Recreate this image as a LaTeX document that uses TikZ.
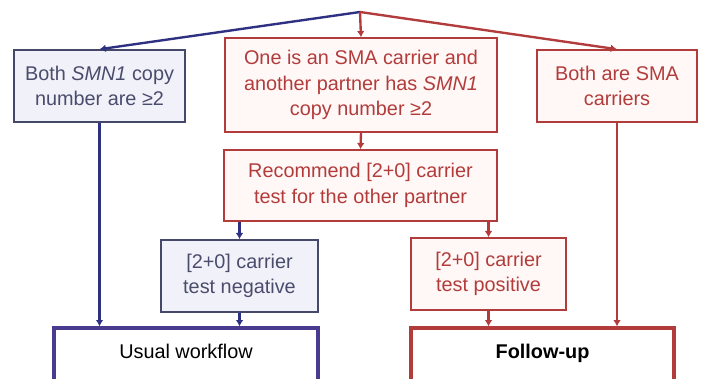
\documentclass[tikz,border=0pt]{standalone}
\usepackage{fontspec}
\setmainfont{Liberation Sans}
\usepackage{xcolor}
\usepackage{tikz}
\usetikzlibrary{arrows.meta}
\definecolor{navy}{HTML}{2E3182}
\definecolor{slate}{HTML}{454869}
\definecolor{slatetext}{HTML}{4A4C6C}
\definecolor{lav}{HTML}{F1F2F9}
\definecolor{brick}{HTML}{B23C3C}
\definecolor{blush}{HTML}{FFF8F6}
\definecolor{plum}{HTML}{4A3B8E}
\newcommand{\pxu}{0.02cm}
\tikzset{
  every node/.style={font=\fontsize{11.3}{14.5}\selectfont, align=center, inner sep=0pt},
  nobox/.style={draw=slate, fill=lav, text=slatetext, line width=0.85pt},
  yesbox/.style={draw=brick, fill=blush, text=brick, line width=0.85pt},
  endbox/.style={fill=white, text=black, line width=1.9pt, text height=30*\pxu, text depth=30*\pxu, anchor=base},
  navyarr/.style={draw=navy, line width=1.35pt, -{Latex[length=3.6pt,width=4.4pt]}},
  brickarr/.style={draw=brick, line width=1.35pt, -{Latex[length=3.6pt,width=4.4pt]}}
}

\begin{document}
\begin{tikzpicture}[x=\pxu, y=-\pxu]
  \useasboundingbox (0,0) rectangle (702,378);
  \clip (0,0) rectangle (702,378);
  \coordinate (top) at (360,12);

  \node[nobox, minimum width=171*\pxu, minimum height=72*\pxu] (both2) at (99.5,86) {Both \textit{SMN1} copy\\number are ≥2};
  \node[yesbox, minimum width=272*\pxu, minimum height=94*\pxu] (one) at (361,85) {One is an SMA carrier and\\another partner has \textit{SMN1}\\copy number ≥2};
  \node[yesbox, minimum width=160*\pxu, minimum height=72*\pxu] (bothsma) at (617,86) {Both are SMA\\carriers};
  \node[yesbox, minimum width=273*\pxu, minimum height=71*\pxu] (rec) at (360.5,185.5) {Recommend [2+0] carrier\\test for the other partner};
  \node[nobox, minimum width=157*\pxu, minimum height=72*\pxu] (neg) at (239.5,276) {[2+0] carrier\\test negative};
  \node[yesbox, minimum width=155*\pxu, minimum height=72*\pxu] (pos) at (488.5,274) {[2+0] carrier\\test positive};
  \node[endbox, draw=plum, minimum width=264*\pxu] (usual) at (186,358) {Usual workflow};
  \node[endbox, draw=brick, minimum width=263*\pxu] (follow) at (542.5,358) {\bfseries Follow-up};

  \draw[navyarr] (top) -- (both2.north);
  \draw[brickarr] (top) -- (one.north);
  \draw[brickarr] (top) -- (bothsma.north);
  \draw[brickarr] (one.south) -- (rec.north);
  \draw[navyarr] (neg.north |- rec.south) -- (neg.north);
  \draw[brickarr] (pos.north |- rec.south) -- (pos.north);
  \draw[navyarr] (both2.south) -- (both2.south |- usual.north);
  \draw[navyarr] (neg.south) -- (neg.south |- usual.north);
  \draw[brickarr] (pos.south) -- (pos.south |- follow.north);
  \draw[brickarr] (bothsma.south) -- (bothsma.south |- follow.north);
\end{tikzpicture}
\end{document}
